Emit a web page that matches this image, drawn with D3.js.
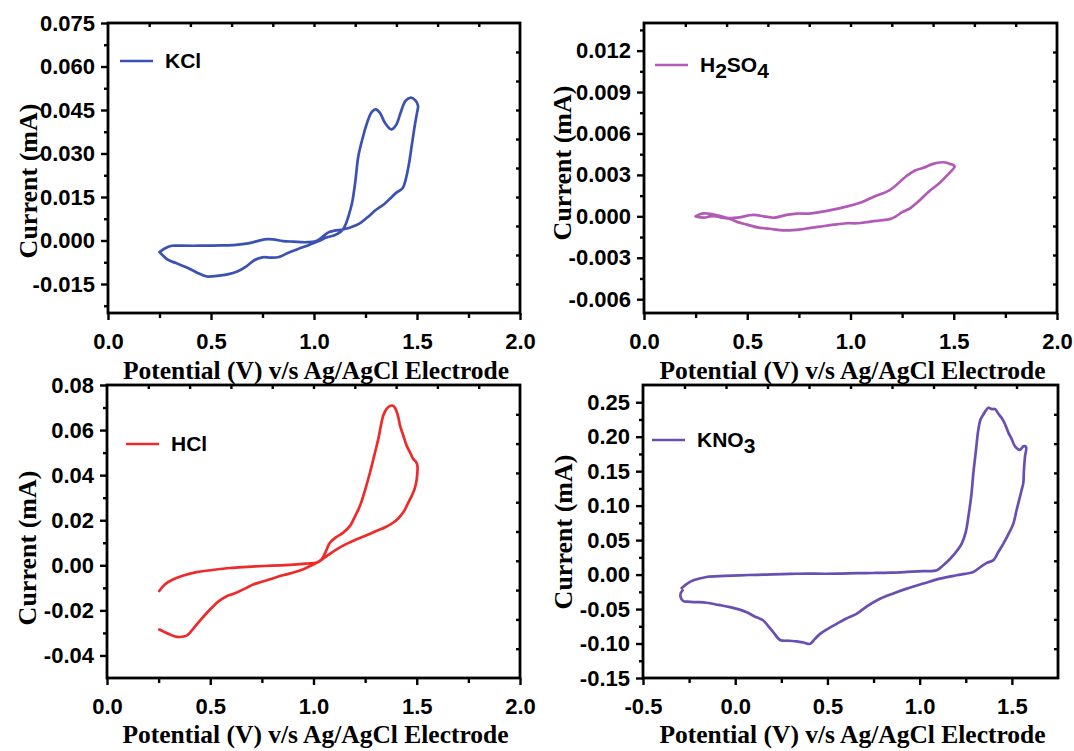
<!DOCTYPE html>
<html>
<head>
<meta charset="utf-8">
<script src="https://cdn.jsdelivr.net/npm/d3@7"></script>
<style>
  html, body { margin: 0; padding: 0; background: #fff; }
  svg { display: block; }
</style>
</head>
<body>
<svg id="chart" width="1074" height="751"></svg>
<script>
// ---------------- DATA ----------------
// KCl cyclic voltammogram (V vs Ag/AgCl, mA)
const kclPotential = [0.25,0.29,0.33,0.38,0.43,0.48,0.53,0.58,0.63,0.67,0.71,0.75,0.79,0.83,0.87,0.92,0.97,1.02,1.06,1.10,1.13,1.15,1.17,1.185,1.20,1.215,1.235,1.255,1.28,1.30,1.32,1.345,1.375,1.40,1.42,1.445,1.47,1.49,1.505,1.50,1.49,1.475,1.46,1.445,1.43,1.40,1.37,1.34,1.30,1.26,1.22,1.18,1.14,1.10,1.07,1.04,1.01,0.96,0.90,0.85,0.80,0.76,0.72,0.68,0.62,0.55,0.45,0.35,0.31,0.28,0.25];
const kclCurrent = [-0.0040,-0.0066,-0.0078,-0.0092,-0.0110,-0.0124,-0.0122,-0.0117,-0.0106,-0.0090,-0.0068,-0.0058,-0.0059,-0.0057,-0.0044,-0.0030,-0.0017,-0.0003,0.0010,0.0018,0.0030,0.0050,0.0090,0.0130,0.0200,0.0290,0.0350,0.0400,0.0443,0.0452,0.0440,0.0405,0.0383,0.0400,0.0440,0.0482,0.0493,0.0485,0.0465,0.0440,0.0400,0.0330,0.0260,0.0210,0.0180,0.0165,0.0145,0.0125,0.0105,0.0080,0.0058,0.0046,0.0038,0.0034,0.0028,0.0012,-0.0002,-0.0006,-0.0004,-0.0002,0.0004,0.0004,-0.0003,-0.0010,-0.0015,-0.0017,-0.0018,-0.0018,-0.0018,-0.0026,-0.0040];

// H2SO4
const h2so4Potential = [0.25,0.28,0.31,0.35,0.40,0.45,0.53,0.58,0.63,0.69,0.74,0.80,0.85,0.92,0.98,1.05,1.11,1.19,1.27,1.31,1.35,1.40,1.43,1.46,1.48,1.50,1.504,1.47,1.43,1.38,1.33,1.29,1.25,1.22,1.19,1.14,1.09,1.03,0.98,0.92,0.85,0.78,0.72,0.66,0.61,0.55,0.50,0.45,0.42,0.38,0.35,0.32,0.29,0.25];
const h2so4Current = [0.0000,0.0002,0.0002,0.0001,-0.0001,-0.0001,0.0001,0.0000,-0.0001,0.0001,0.0002,0.0002,0.0003,0.0005,0.0007,0.0010,0.0014,0.0019,0.0029,0.0033,0.0035,0.0038,0.0039,0.0039,0.0038,0.0037,0.0036,0.0030,0.0024,0.0018,0.0011,0.0006,0.0003,0.0000,-0.0002,-0.0003,-0.0004,-0.0005,-0.0005,-0.0006,-0.00075,-0.0009,-0.0010,-0.0010,-0.0009,-0.0008,-0.0006,-0.0004,-0.0002,-0.0001,0.0000,0.0000,-0.0001,0.0000];

// HCl
const hclPotential = [0.253,0.28,0.321,0.37,0.434,0.50,0.596,0.68,0.757,0.84,0.919,0.97,1.016,1.04,1.06,1.08,1.11,1.144,1.177,1.20,1.225,1.25,1.274,1.295,1.314,1.338,1.355,1.37,1.385,1.395,1.41,1.419,1.435,1.451,1.468,1.483,1.497,1.503,1.50,1.49,1.476,1.455,1.435,1.41,1.387,1.35,1.306,1.26,1.209,1.16,1.112,1.07,1.031,0.983,0.951,0.91,0.87,0.83,0.789,0.75,0.708,0.675,0.644,0.61,0.58,0.54,0.499,0.465,0.434,0.41,0.386,0.354,0.33,0.305,0.28,0.253];
const hclCurrent = [-0.0114,-0.0085,-0.0062,-0.0045,-0.0030,-0.0022,-0.0012,-0.0007,-0.0003,0.0000,0.0004,0.0008,0.0012,0.0027,0.0062,0.0101,0.0125,0.0145,0.0175,0.0215,0.0264,0.0335,0.0413,0.0490,0.0561,0.0665,0.0695,0.0707,0.0708,0.0698,0.0660,0.0620,0.0575,0.0531,0.0500,0.0472,0.0458,0.0443,0.0383,0.0340,0.0309,0.0270,0.0235,0.0208,0.0190,0.0170,0.0153,0.0135,0.0116,0.0095,0.0071,0.0045,0.0019,-0.0003,-0.0018,-0.0030,-0.0040,-0.0050,-0.0062,-0.0073,-0.0085,-0.0100,-0.0114,-0.0127,-0.0137,-0.0160,-0.0196,-0.0230,-0.0263,-0.0290,-0.0312,-0.0318,-0.0316,-0.0307,-0.0297,-0.0285];

// KNO3
const kno3Potential = [-0.29,-0.26,-0.227,-0.155,-0.06,0.026,0.12,0.207,0.30,0.388,0.48,0.568,0.66,0.749,0.84,0.93,1.02,1.093,1.128,1.155,1.183,1.228,1.25,1.264,1.28,1.291,1.305,1.318,1.33,1.345,1.373,1.39,1.409,1.425,1.445,1.463,1.481,1.50,1.517,1.544,1.562,1.577,1.571,1.565,1.562,1.553,1.544,1.525,1.508,1.48,1.454,1.425,1.40,1.364,1.33,1.291,1.245,1.201,1.11,1.02,0.93,0.86,0.785,0.72,0.658,0.60,0.55,0.50,0.46,0.43,0.405,0.37,0.334,0.29,0.243,0.207,0.18,0.152,0.10,0.062,0.02,-0.028,-0.09,-0.155,-0.20,-0.227,-0.26,-0.281,-0.296,-0.294,-0.285];
const kno3Current = [-0.0195,-0.0130,-0.0083,-0.0035,-0.0020,-0.0010,-0.0003,0.0004,0.0010,0.0015,0.0012,0.0015,0.0020,0.0023,0.0028,0.0038,0.0050,0.0063,0.0136,0.0200,0.0281,0.0450,0.0620,0.0840,0.1150,0.1470,0.1800,0.2100,0.2250,0.2320,0.2420,0.2400,0.2400,0.2340,0.2270,0.2180,0.2060,0.1960,0.1860,0.1810,0.1860,0.1850,0.1710,0.1500,0.1330,0.1230,0.1130,0.0930,0.0740,0.0580,0.0450,0.0320,0.0210,0.0170,0.0110,0.0038,0.0010,-0.0010,-0.0058,-0.0130,-0.0204,-0.0270,-0.0350,-0.0450,-0.0569,-0.0640,-0.0714,-0.0790,-0.0860,-0.0940,-0.1006,-0.0985,-0.0968,-0.0960,-0.0948,-0.0837,-0.0750,-0.0666,-0.0600,-0.0545,-0.0505,-0.0472,-0.0440,-0.0408,-0.0400,-0.0399,-0.0392,-0.0385,-0.0327,-0.0260,-0.0229];

// tick values
const xTicksA = [0, 0.5, 1.0, 1.5, 2.0];
const xMinorA = [0.25, 0.75, 1.25, 1.75];
const xTicksB = [-0.5, 0, 0.5, 1.0, 1.5];
const xMinorB = [-0.25, 0.25, 0.75, 1.25];

const yTicksKCl = [-0.015, 0, 0.015, 0.030, 0.045, 0.060, 0.075];
const yTicksH2SO4 = [-0.006, -0.003, 0, 0.003, 0.006, 0.009, 0.012];
const yTicksHCl = [-0.04, -0.02, 0, 0.02, 0.04, 0.06, 0.08];
const yTicksKNO3 = [-0.15, -0.10, -0.05, 0, 0.05, 0.10, 0.15, 0.20, 0.25];

const xTitle = "Potential (V) v/s Ag/AgCl Electrode";
const yTitle = "Current (mA)";

// ---------------- LAYOUT ----------------
const panels = [
  { key: "KCl", V: kclPotential, I: kclCurrent, color: "#3b52b4",
    box: [108, 23, 520, 313], xDom: [0, 2], yDom: [-0.025, 0.075],
    xT: xTicksA, xM: xMinorA, xFmt: d => d.toFixed(1),
    yT: yTicksKCl, yStep: 0.015, yFmt: d => d.toFixed(3),
    legend: { x: 120, y: 61, parts: [["KCl", 0]] },
    xTitleY: 379, yTitleX: 28, yTitleY: 181 },
  { key: "H2SO4", V: h2so4Potential, I: h2so4Current, color: "#b15ab6",
    box: [644, 23, 1057, 313], xDom: [0, 2], yDom: [-0.007, 0.014],
    xT: xTicksA, xM: xMinorA, xFmt: d => d.toFixed(1),
    yT: yTicksH2SO4, yStep: 0.003, yFmt: d => d.toFixed(3),
    legend: { x: 655, y: 65, parts: [["H", 0], ["2", 1], ["SO", 0], ["4", 1]] },
    xTitleY: 379, yTitleX: 562, yTitleY: 163 },
  { key: "HCl", V: hclPotential, I: hclCurrent, color: "#ee2b2b",
    box: [107, 385, 520, 678], xDom: [0, 2], yDom: [-0.05, 0.08],
    xT: xTicksA, xM: xMinorA, xFmt: d => d.toFixed(1),
    yT: yTicksHCl, yStep: 0.02, yFmt: d => d.toFixed(2),
    legend: { x: 126, y: 444, parts: [["HCl", 0]] },
    xTitleY: 743, yTitleX: 27, yTitleY: 548 },
  { key: "KNO3", V: kno3Potential, I: kno3Current, color: "#6a4fb2",
    box: [643, 385, 1058, 678], xDom: [-0.5, 1.75], yDom: [-0.15, 0.275],
    xT: xTicksB, xM: xMinorB, xFmt: d => d.toFixed(1),
    yT: yTicksKNO3, yStep: 0.05, yFmt: d => d.toFixed(2),
    legend: { x: 652, y: 440, parts: [["KNO", 0], ["3", 1]] },
    xTitleY: 743, yTitleX: 563, yTitleY: 532 }
];

const svg = d3.select("#chart");
const tickFont = "'Liberation Sans', Arial, sans-serif";
const titleFont = "'Liberation Serif', 'Times New Roman', serif";

panels.forEach(p => {
  const [L, T, R, B] = p.box;
  const x = d3.scaleLinear().domain(p.xDom).range([L, R]);
  const y = d3.scaleLinear().domain(p.yDom).range([B, T]);
  const g = svg.append("g").attr("class", "panel-" + p.key);

  // mirror axes: ten equal divisions of each span
  const xTop = d3.range(1, 10).map(k => p.xDom[0] + k * (p.xDom[1] - p.xDom[0]) / 10);
  const yRight = d3.range(1, 10).map(k => p.yDom[0] + k * (p.yDom[1] - p.yDom[0]) / 10);

  // bottom axis (major, outward)
  g.append("g").attr("transform", `translate(0,${B})`)
    .call(d3.axisBottom(x).tickValues(p.xT).tickSize(7).tickPadding(13).tickFormat(p.xFmt));
  g.append("g").attr("transform", `translate(0,${B})`)
    .call(d3.axisBottom(x).tickValues(p.xM).tickSize(5).tickFormat(""));
  // top inward ticks
  g.append("g").attr("transform", `translate(0,${T})`)
    .call(d3.axisBottom(x).tickValues(xTop).tickSize(4).tickFormat(""));
  // left axis
  g.append("g").attr("transform", `translate(${L},0)`)
    .call(d3.axisLeft(y).tickValues(p.yT).tickSize(7).tickPadding(6).tickFormat(p.yFmt));
  const yMinor = p.yT.slice(0, -1).map(v => v + p.yStep / 2)
    .concat([p.yT[0] - p.yStep / 2, p.yT[p.yT.length - 1] + p.yStep / 2])
    .filter(v => v > p.yDom[0] + 1e-9 && v < p.yDom[1] - 1e-9);
  g.append("g").attr("transform", `translate(${L},0)`)
    .call(d3.axisLeft(y).tickValues(yMinor).tickSize(4).tickFormat(""));
  // right inward ticks
  g.append("g").attr("transform", `translate(${R},0)`)
    .call(d3.axisRight(y).tickValues(yRight).tickSize(-4).tickFormat(""));

  g.selectAll(".domain").remove();
  g.selectAll(".tick line").attr("stroke", "#000").attr("stroke-width", 2.4);
  g.selectAll(".tick text").attr("fill", "#000")
    .style("font-family", tickFont).style("font-weight", "bold").style("font-size", "22px");

  // frame
  g.append("rect").attr("x", L).attr("y", T).attr("width", R - L).attr("height", B - T)
    .attr("fill", "none").attr("stroke", "#000").attr("stroke-width", 2.8);

  // curve
  const pts = p.V.map((v, i) => [v, p.I[i]]);
  g.append("path").datum(pts)
    .attr("fill", "none").attr("stroke", p.color).attr("stroke-width", 2.7)
    .attr("stroke-linejoin", "round").attr("stroke-linecap", "round")
    .attr("d", d3.line().x(d => x(d[0])).y(d => y(d[1])).curve(d3.curveCatmullRom.alpha(0.5)));

  // legend
  const lg = g.append("g");
  lg.append("line").attr("x1", p.legend.x).attr("x2", p.legend.x + 33)
    .attr("y1", p.legend.y).attr("y2", p.legend.y)
    .attr("stroke", p.color).attr("stroke-width", 2.7);
  const lt = lg.append("text").attr("x", p.legend.x + 45).attr("y", p.legend.y + 7)
    .style("font-family", tickFont).style("font-weight", "bold").style("font-size", "21px")
    .attr("fill", "#000");
  let sub = false;
  p.legend.parts.forEach(([s, isSub]) => {
    const ts = lt.append("tspan").text(s);
    if (isSub && !sub) { ts.attr("dy", 6); sub = true; }
    else if (!isSub && sub) { ts.attr("dy", -6); sub = false; }
  });

  // axis titles
  g.append("text").attr("x", (L + R) / 2 + 2).attr("y", p.xTitleY)
    .attr("text-anchor", "middle")
    .style("font-family", titleFont).style("font-weight", "bold").style("font-size", "25.5px")
    .text(xTitle);
  g.append("text")
    .attr("transform", `translate(${p.yTitleX},${p.yTitleY}) rotate(-90)`)
    .attr("text-anchor", "middle").attr("dominant-baseline", "central")
    .style("font-family", titleFont).style("font-weight", "bold").style("font-size", "26px")
    .text(yTitle);
});
</script>
</body>
</html>
